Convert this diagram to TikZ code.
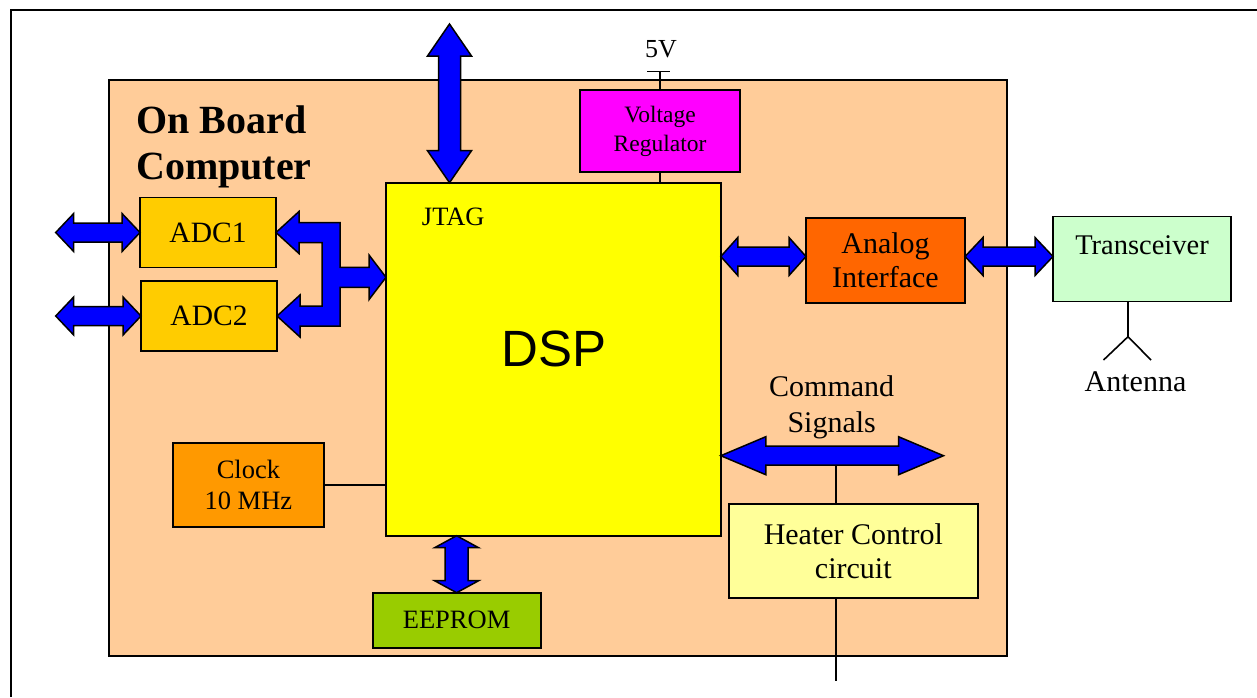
\documentclass[tikz,border=0pt]{standalone}
\usepackage{fontspec}
\setmainfont{Liberation Serif}
\setsansfont{Liberation Sans}
\usetikzlibrary{positioning, calc}
\definecolor{boardpeach}{RGB}{255, 204, 153}
\definecolor{adcgold}{RGB}{255, 204, 0}
\definecolor{dspyellow}{RGB}{255, 255, 0}
\definecolor{regmagenta}{RGB}{255, 0, 255}
\definecolor{anaorange}{RGB}{255, 102, 0}
\definecolor{trxgreen}{RGB}{204, 255, 204}
\definecolor{clkorange}{RGB}{255, 153, 0}
\definecolor{eepgreen}{RGB}{153, 204, 0}
\definecolor{heatyellow}{RGB}{255, 255, 153}
\definecolor{busblue}{RGB}{0, 0, 255}
\newcommand{\txtsize}[2]{\fontsize{#1}{#2}\selectfont}
% block bus arrows: tip, tip, head length, head half width, shaft half width
\newcommand{\hbus}[5]{\draw[bus] (#1) -- ++(#3,-#4) -- ++(0,#4-#5) -- ($(#2)+(-#3,-#5)$) -- ++(0,#5-#4) -- (#2) -- ++(-#3,#4) -- ++(0,#5-#4) -- ($(#1)+(#3,#5)$) -- ++(0,#4-#5) -- cycle;}
\newcommand{\vbus}[5]{\draw[bus] (#1) -- ++(-#4,#3) -- ++(#4-#5,0) -- ($(#2)+(-#5,-#3)$) -- ++(#5-#4,0) -- (#2) -- ++(#4,-#3) -- ++(#5-#4,0) -- ($(#1)+(#5,#3)$) -- ++(#4-#5,0) -- cycle;}

\begin{document}
\begin{tikzpicture}[x=1pt, y=-1pt,
    blk/.style={draw, line width=1.8pt, align=center, inner sep=0pt, outer sep=0pt},
    bus/.style={draw=black, fill=busblue, line width=1.5pt, line join=miter},
    wire/.style={line width=1.6pt}]
    \useasboundingbox (0,0) rectangle (1257,697);
    \draw[line width=2pt] (11,697) -- (11,10) -- (1257,10);
    \node[draw, line width=2pt, fill=boardpeach, minimum width=898pt, minimum height=576pt, inner sep=0pt, outer sep=0pt] (obc) at (558,368) {};
    \node[anchor=north west, align=left, inner sep=0pt, font=\bfseries\txtsize{40}{46}] (title) at (136,106) {On Board\\Computer};

    \node[blk, fill=adcgold, minimum width=136pt, minimum height=70pt, font=\txtsize{29.5}{34}] (adc1) at (208,232.5) {ADC1};
    \node[blk, fill=adcgold, minimum width=136pt, minimum height=70pt, font=\txtsize{29.5}{34}, below=13.5pt of adc1, xshift=1pt] (adc2) {ADC2};
    \node[blk, fill=dspyellow, minimum width=335pt, minimum height=353pt] (dsp) at (553.3,359.2) {};
    \node[font=\txtsize{26.5}{30}, anchor=base] (jtag) at (453.3,225) {JTAG};
    \node[font=\sffamily\txtsize{51}{56}, anchor=base] (dsptxt) at (554,366.7) {DSP};
    \node[blk, fill=regmagenta, minimum width=160pt, minimum height=82pt, font=\txtsize{23.5}{29}] (vreg) at (660,131) {Voltage\\Regulator};
    \node[font=\txtsize{26}{30}, anchor=base] (vlbl) at (661,57.3) {5V};
    \coordinate (vin) at (660,71.3);
    \node[blk, fill=anaorange, minimum width=159pt, minimum height=85pt, font=\txtsize{30}{34}] (ai) at (885.5,260.5) {Analog\\Interface};
    \node[draw, line width=1.8pt, inner sep=0pt, outer sep=0pt, fill=trxgreen, minimum width=178pt, minimum height=85pt, font=\txtsize{28.5}{32}, text height=22pt, text depth=32pt] (trx) at (1142,259) {Transceiver};
    \coordinate (ant) at (1128,336.7);
    \node[font=\txtsize{30}{34}, anchor=base] (antlbl) at (1135.5,391.7) {Antenna};
    \node[blk, fill=clkorange, minimum width=151pt, minimum height=84pt, font=\txtsize{26.5}{31}] (clock) at (248.4,484.7) {Clock\\10 MHz};
    \node[blk, fill=eepgreen, minimum width=168pt, minimum height=55pt, font=\txtsize{26.5}{30}] (eeprom) at (456.6,620.2) {EEPROM};
    \node[blk, fill=heatyellow, minimum width=249pt, minimum height=94pt, font=\txtsize{30}{33.5}] (heater) at (853.3,551) {Heater Control\\circuit};
    \node[align=center, font=\txtsize{30}{36}] (cmdlbl) at (831.7,407) {Command\\Signals};
    \coordinate (cmdend) at (943.5,455.7);
    \coordinate (htap) at (836,455.7);
    \coordinate (hout) at (836,680.7);
    \coordinate (adc1in) at ([xshift=-84.3pt]adc1.west);
    \coordinate (adc2in) at (adc1in |- adc2.west);
    \coordinate (jtagout) at (449.5,24);
    \coordinate (jtagin) at (jtagout |- dsp.north);
    \coordinate (aiL) at ([yshift=4pt]ai.west);
    \coordinate (aiR) at ([yshift=4pt]ai.east);

    \draw[wire] (clock.east) -- (clock.east -| dsp.west);
    \draw[wire] (vreg.south) -- (vreg.south |- dsp.north);
    \draw[wire] (vin) -- (vreg.north);
    \draw[wire] ([xshift=-13pt]vin) -- ([xshift=10pt]vin);
    \draw[wire] (trx.south -| ant) -- (ant) -- ++(-24.5,23.3);
    \draw[wire] (ant) -- ++(23,23.3);
    \draw[wire] (htap) -- (htap |- heater.north);
    \draw[wire] (htap |- heater.south) -- (hout);

    \hbus{adc1in}{adc1.west}{18}{19}{9.5}
    \hbus{adc2in}{adc2.west}{18}{19}{9.5}
    \draw[bus] (adc1.east) -- ++(23,-21) -- ++(0,11) -- ++(41,0) -- ++(0,44.8) -- ++(29,0) -- ++(0,-12.3) -- ++(17,22.3) -- ++(-17,22.3) -- ++(0,-12.3) -- ++(-29,0) -- ++(0,38.7) -- ++(-40,0) -- ++(0,11) -- (adc2.east) -- ++(23,-21) -- ++(0,11) -- ++(22,0) -- ++(0,-63.5) -- ++(-23,0) -- ++(0,11) -- cycle;
    \vbus{jtagout}{jtagin}{32}{22}{11}
    \hbus{dsp.east |- aiL}{aiL}{17}{19}{9.5}
    \hbus{aiR}{trx.west |- aiR}{18}{19}{9.5}
    \hbus{dsp.east |- cmdend}{cmdend}{45}{19}{9.5}
    \vbus{eeprom.north |- dsp.south}{eeprom.north}{12}{22}{11.5}
\end{tikzpicture}
\end{document}
